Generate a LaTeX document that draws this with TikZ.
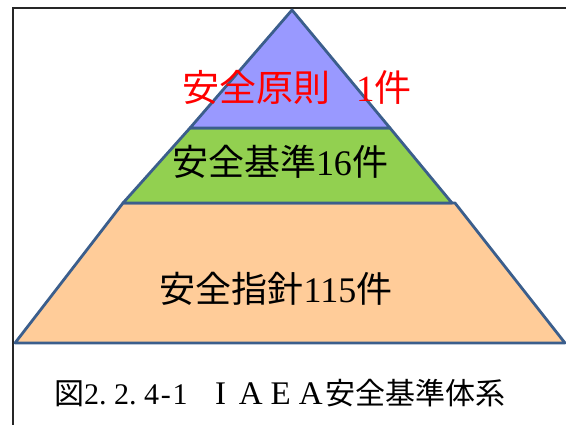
\documentclass[tikz,border=0pt]{standalone}
\usepackage{fontspec}
\setmainfont{Liberation Serif}
\newfontfamily\jp{Noto Sans CJK JP}
\definecolor{edgeblue}{HTML}{3B5E8C}
\definecolor{tierblue}{HTML}{9999FF}
\definecolor{tiergreen}{HTML}{92D050}
\definecolor{tierorange}{HTML}{FFCC99}
\newcommand{\fw}[1]{\makebox[1em]{\scalebox{1.1}{#1}}}
\newcommand{\hwdot}{\makebox[0.5em][l]{.}}
\begin{document}
\begin{tikzpicture}[x=1pt,y=-1pt,
  tier/.style={draw=edgeblue,line width=2.8pt,line join=round},
  bigtext/.style={inner sep=0pt,font=\fontsize{36}{42}\selectfont},
  captext/.style={inner sep=0pt,font=\fontsize{30}{34}\selectfont}]
\useasboundingbox (0,0) rectangle (566,425);
\coordinate (ftl) at (13,8);
\coordinate (ftr) at (566,8);
\coordinate (fbl) at (13,425);
\draw[line width=2pt,black!85] (ftr) -- (ftl) -- (fbl);
% tiers
\filldraw[tier,fill=tierorange] (15,343) -- (565,343) -- (455,203) -- (123,203) -- cycle;
\filldraw[tier,fill=tiergreen] (123,203) -- (452,203) -- (390,128) -- (190,128) -- cycle;
\filldraw[tier,fill=tierblue] (190,128) -- (390,128) -- (292,10) -- cycle;
% labels
\node[bigtext,text=red,anchor=west,font=\fontsize{37}{42}\selectfont] (top) at (182,87) {{\jp 安全原則}\hspace{0.7em}1{\jp 件}};
\node[bigtext] (mid) at (280,162) {{\jp 安全基準}16{\jp 件}};
\node[bigtext] (low) at (276,289) {{\jp 安全指針}115{\jp 件}};
\node[captext,anchor=west] (cap) at (54,393) {{\jp 図}2\hwdot 2\hwdot 4\makebox[0.45em]{-}1\hspace{0.6em}\fw{I}\fw{A}\fw{E}\fw{A}{\jp 安全基準体系}};
\end{tikzpicture}
\end{document}
